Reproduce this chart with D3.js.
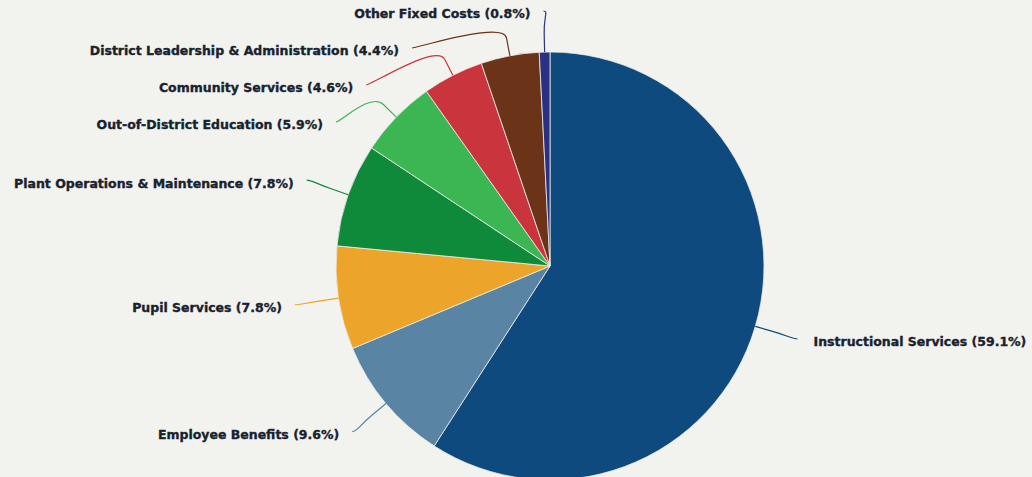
<!DOCTYPE html>
<html>
<head>
<meta charset="utf-8">
<script src="https://cdn.jsdelivr.net/npm/d3@7"></script>
<style>
  html, body { margin: 0; padding: 0; background: #f2f2ee; }
  svg { display: block; }
  .lbl { font-family: "DejaVu Sans", Verdana, sans-serif; font-weight: bold; font-size: 12.5px; fill: #18222f; stroke: #18222f; stroke-width: 0.35px; }
</style>
</head>
<body>
<svg id="chart" width="1032" height="477"></svg>
<script>
// Expenditure shares by function (percent of total)
const categories = [
  "Instructional Services",
  "Employee Benefits",
  "Pupil Services",
  "Plant Operations & Maintenance",
  "Out-of-District Education",
  "Community Services",
  "District Leadership & Administration",
  "Other Fixed Costs"
];
const shares = [59.1, 9.6, 7.8, 7.8, 5.9, 4.6, 4.4, 0.8];
const sliceColors = ["#0e4a7d", "#5a84a4", "#eca52a", "#0f8a3b", "#3cb553", "#c9343d", "#6b3419", "#2a3182"];

const data = categories.map((name, i) => ({ name, value: shares[i], color: sliceColors[i] }));

const W = 1032, H = 477;
const cx = 550, cy = 266, r = 214;
const labelDistance = 44;   // connector start beyond the rim
const breakOffset = 18;     // elbow of the connector beyond the rim
const topBound = 11, minGap = 37;

const svg = d3.select("#chart");
svg.append("rect").attr("width", W).attr("height", H).attr("fill", "#f2f2ee");

const g = svg.append("g").attr("transform", `translate(${cx},${cy})`);

const pie = d3.pie().sort(null).value(d => d.value).startAngle(0).endAngle(2 * Math.PI);
const arcs = pie(data);
const arc = d3.arc().innerRadius(0).outerRadius(r);

g.selectAll("path.slice").data(arcs).join("path")
  .attr("class", "slice")
  .attr("d", arc)
  .attr("fill", d => d.data.color)
  .attr("stroke", "#eeeeea")
  .attr("stroke-width", 0.8)
  .attr("stroke-linejoin", "round");

// Label layout: natural position on an outer circle, then spread apart vertically per side
const R = r + labelDistance;
const polar = (rad, a) => [rad * Math.sin(a), -rad * Math.cos(a)];
const items = arcs.map(a => {
  const mid = (a.startAngle + a.endAngle) / 2;
  const [nx, ny] = polar(R, mid);
  return { a, mid, left: nx < 0, nx, ny, y: ny };
});

["left", "right"].forEach(side => {
  const list = items.filter(d => (side === "left") === d.left).sort((p, q) => p.ny - q.ny);
  let prev = -Infinity;
  list.forEach(d => {
    const yAbs = Math.max(d.ny + cy, topBound, prev + minGap);
    d.y = yAbs - cy;
    prev = yAbs;
  });
});

items.forEach(d => {
  const sign = d.left ? -1 : 1;
  const yForX = (d.y + cy <= topBound + 0.01) ? d.ny : d.y;
  d.x = sign * Math.sqrt(Math.max(0, R * R - yForX * yForX));
  d.brk = polar(r + breakOffset, d.mid);
  d.touch = polar(r, d.mid);
});

const connector = d => {
  const sign = d.left ? 1 : -1;
  const [bx, by] = d.brk, [tx, ty] = d.touch;
  return `M${d.x},${d.y} C${d.x + sign * 5},${d.y} ${2 * bx - tx},${2 * by - ty} ${bx},${by} L${tx},${ty}`;
};

g.selectAll("path.conn").data(items).join("path")
  .attr("class", "conn")
  .attr("d", connector)
  .attr("fill", "none")
  .attr("stroke", d => d.a.data.color)
  .attr("stroke-width", 1.2);

g.selectAll("text.lbl").data(items).join("text")
  .attr("class", "lbl")
  .attr("x", d => d.x + (d.left ? -13 : 16))
  .attr("y", d => d.y + 3)
  .attr("dy", "0.35em")
  .attr("text-anchor", d => d.left ? "end" : "start")
  .text(d => `${d.a.data.name} (${d3.format(".1f")(d.a.data.value)}%)`);
</script>
</body>
</html>
